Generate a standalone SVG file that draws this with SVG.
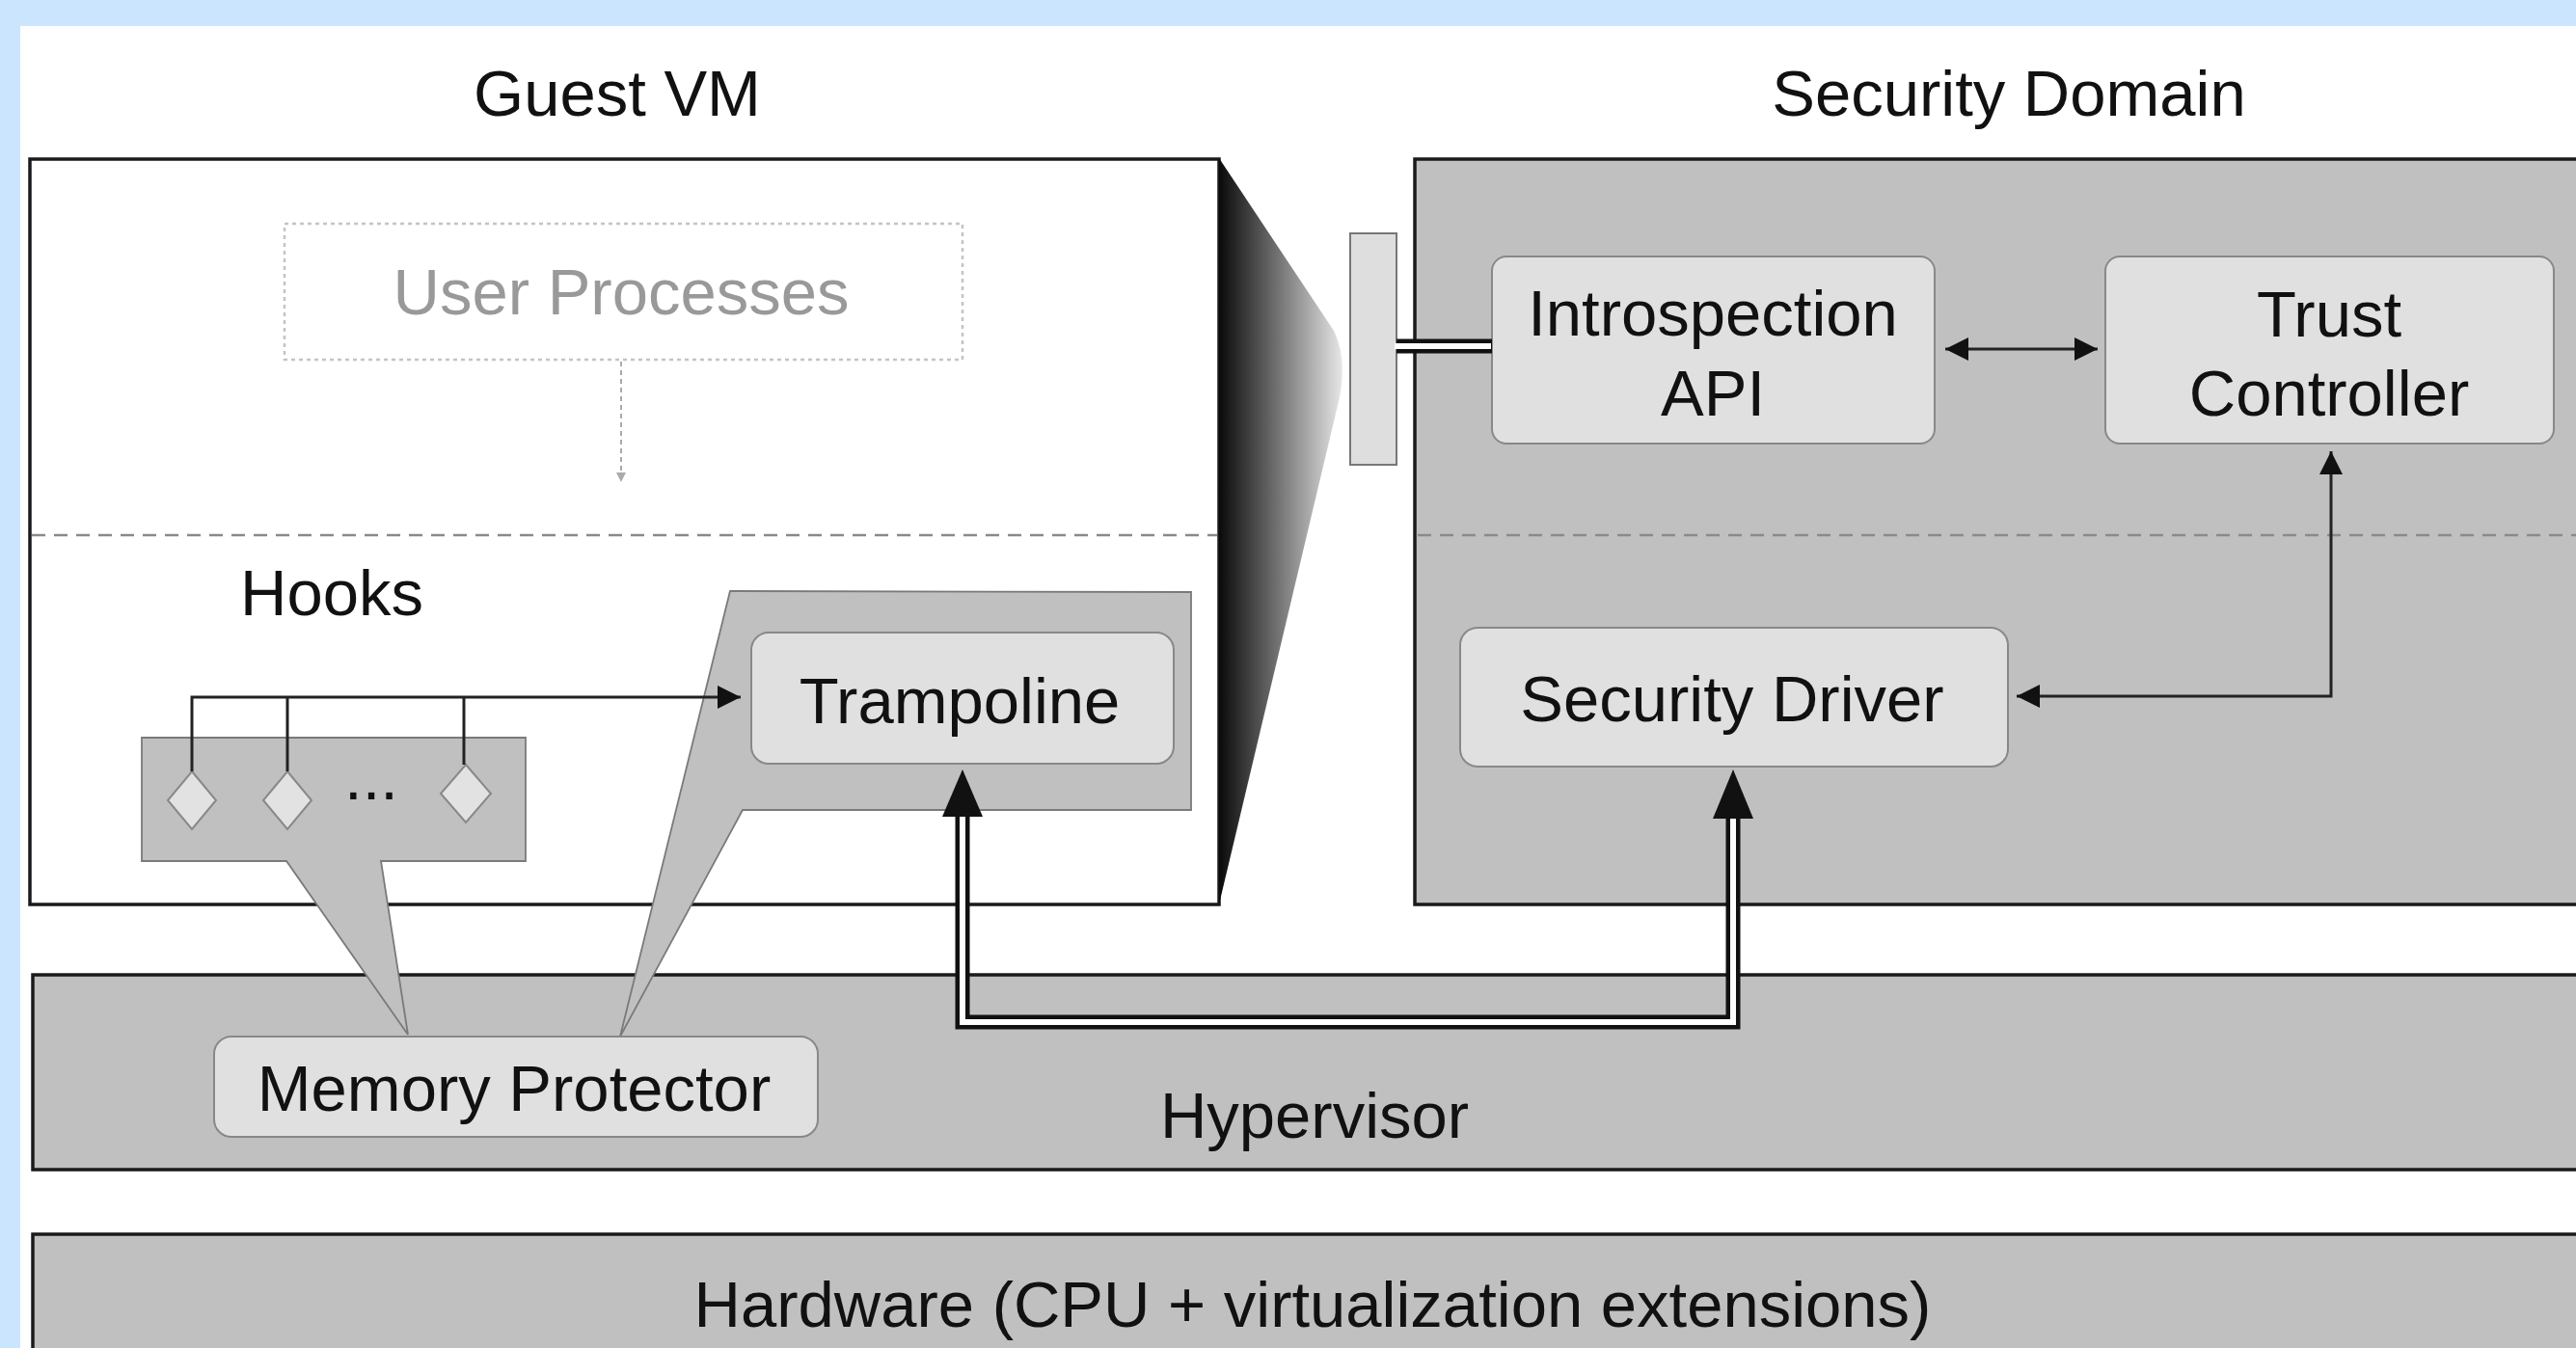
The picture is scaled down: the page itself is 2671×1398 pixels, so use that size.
<svg xmlns="http://www.w3.org/2000/svg" width="2671" height="1398" viewBox="0 0 2671 1398">
<style>
text{font-family:"Liberation Sans",Arial,Helvetica,sans-serif;font-size:67px;fill:#111;text-anchor:middle}
.cont{stroke:#1a1a1a;stroke-width:3.5}
.gray{fill:#c0c0c0}
.box{fill:#e0e0e0;stroke:#888;stroke-width:2}
.callout{fill:#c0c0c0;stroke:#7a7a7a;stroke-width:1.8}
.sep{stroke:#8a8a8a;stroke-width:2.5;stroke-dasharray:14 9;fill:none}
.line{stroke:#222;stroke-width:3;fill:none}
.dbl-out{stroke:#111;stroke-width:15;fill:none}
.dbl-in{stroke:#fff;stroke-width:6;fill:none}
.head{fill:#111}
</style>
<defs>
<linearGradient id="funnel" gradientUnits="userSpaceOnUse" x1="1264" y1="0" x2="1395" y2="0">
<stop offset="0" stop-color="#0a0a0a"/>
<stop offset="0.5" stop-color="#7a7a7a"/>
<stop offset="1" stop-color="#ececec"/>
</linearGradient>
<marker id="arr" viewBox="0 0 10 10" refX="10" refY="5" markerWidth="30" markerHeight="24" markerUnits="userSpaceOnUse" orient="auto-start-reverse">
<path d="M0,0 L10,5 L0,10 z" fill="#111"/>
</marker>
<marker id="arrS" viewBox="0 0 10 10" refX="10" refY="5" markerWidth="10" markerHeight="10" markerUnits="userSpaceOnUse" orient="auto">
<path d="M0,0 L10,5 L0,10 z" fill="#aaa"/>
</marker>
</defs>

<rect x="0" y="0" width="2671" height="1398" fill="#cce5fe"/>
<rect x="21" y="27" width="2650" height="1371" fill="#fff"/>

<g id="guest-vm">
<rect class="cont" x="31" y="165" width="1233" height="773" fill="#fff"/>
<line class="sep" x1="33" y1="555" x2="1262" y2="555"/>
<text x="640" y="120">Guest VM</text>
</g>

<g id="security-domain">
<rect class="cont gray" x="1467" y="165" width="1220" height="773"/>
<line class="sep" x1="1470" y1="555" x2="2671" y2="555"/>
<text x="2083" y="120">Security Domain</text>
</g>

<g id="hypervisor">
<rect class="cont gray" x="34" y="1011" width="2660" height="202"/>
<text x="1363" y="1180">Hypervisor</text>
</g>

<g id="hardware">
<rect class="cont gray" x="34" y="1280" width="2660" height="140"/>
<text x="1361" y="1376">Hardware (CPU + virtualization extensions)</text>
</g>

<g id="funnel-shape">
<path d="M1264,164 L1383,343 Q1397,372 1389,412 L1264,938 Z" fill="url(#funnel)"/>
</g>

<g id="interface-port">
<rect x="1400" y="242" width="48" height="240" fill="#dedede" stroke="#777" stroke-width="2"/>
</g>

<g id="user-processes">
<rect x="295" y="232" width="703" height="141" fill="none" stroke="#c4c4c4" stroke-width="2.5" stroke-dasharray="4 4"/>
<text x="644" y="326" font-size="64" style="fill:#999">User Processes</text>
</g>

<g id="hooks">
<text x="344" y="638">Hooks</text>
<path class="callout" d="M147,765 L545,765 L545,893 L395,893 L423,1073 L297,893 L147,893 Z"/>
<path d="M199,800 L224,830 L199,860 L174,830 Z M298,800 L323,830 L298,860 L273,830 Z M483,793 L509,823 L483,853 L457,823 Z" fill="#e2e2e2" stroke="#888" stroke-width="2"/>
<text x="385" y="829" font-size="72" style="fill:#111">...</text>
</g>

<g id="trampoline">
<path class="callout" d="M757,613 L1235,614 L1235,840 L770,840 L643,1075 Z"/>
<rect class="box" x="779" y="656" width="438" height="136" rx="18"/>
<text x="995" y="750">Trampoline</text>
</g>

<g id="memory-protector">
<rect class="box" x="222" y="1075" width="626" height="104" rx="18"/>
<text x="533" y="1152">Memory Protector</text>
</g>

<g id="introspection-api">
<rect class="box" x="1547" y="266" width="459" height="194" rx="15"/>
<text x="1776" y="348">Introspection</text>
<text x="1776" y="431">API</text>
</g>

<g id="trust-controller">
<rect class="box" x="2183" y="266" width="465" height="194" rx="15"/>
<text x="2415" y="349">Trust</text>
<text x="2415" y="431">Controller</text>
</g>

<g id="security-driver">
<rect class="box" x="1514" y="651" width="568" height="144" rx="18"/>
<text x="1796" y="748">Security Driver</text>
</g>

<g id="connectors">
<line x1="644" y1="375" x2="644" y2="500" stroke="#aaa" stroke-width="2" stroke-dasharray="5 4" marker-end="url(#arrS)"/>
<path class="line" d="M199,800 V723 H768" marker-end="url(#arr)"/>
<path class="line" d="M298,800 V723"/>
<path class="line" d="M481,793 V723"/>
<line class="line" x1="2017" y1="362" x2="2175" y2="362" marker-start="url(#arr)" marker-end="url(#arr)"/>
<path class="line" d="M2417,468 V722 H2091" marker-start="url(#arr)" marker-end="url(#arr)"/>
<line class="dbl-out" x1="1448" y1="359" x2="1547" y2="359"/>
<line class="dbl-in" x1="1446" y1="359" x2="1546" y2="359"/>
<path class="dbl-out" d="M998,840 V1060 H1797 V840" stroke-linejoin="miter"/>
<path class="dbl-in" d="M998,838 V1060 H1797 V838" stroke-linejoin="miter"/>
<path class="head" d="M998,798 L1019,847 L977,847 Z"/>
<path class="head" d="M1797,798 L1818,849 L1776,849 Z"/>
</g>
</svg>
